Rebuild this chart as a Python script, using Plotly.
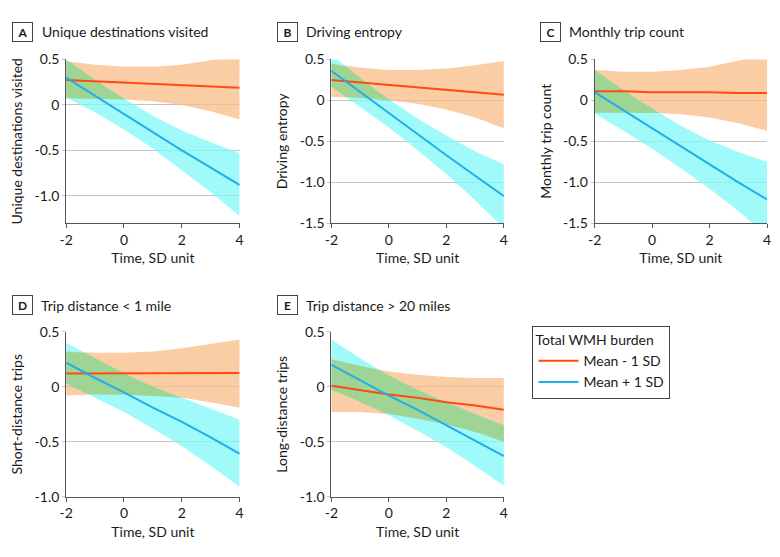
import numpy as np
import plotly.graph_objects as go

# ---------------- data ----------------
time_x = [-2, -1, 0, 1, 2, 3, 4]
x_tickvals = [-2, 0, 2, 4]
x_ticktext = ["-2", "0", "2", "4"]

panel_letters = ["A", "B", "C", "D", "E"]
panel_titles = ["Unique destinations visited", "Driving entropy", "Monthly trip count",
                "Trip distance < 1 mile", "Trip distance > 20 miles"]
y_titles = ["Unique destinations visited", "Driving entropy", "Monthly trip count",
            "Short-distance trips", "Long-distance trips"]
y_ranges = [[-1.3, 0.5], [-1.5, 0.5], [-1.5, 0.5], [-1.0, 0.5], [-1.0, 0.5]]
y_tickvals_A = [0.5, 0, -0.5, -1.0]
y_ticktext_A = ["0.5", "0", "-0.5", "-1.0"]
y_tickvals_BC = [0.5, 0, -0.5, -1.0, -1.5]
y_ticktext_BC = ["0.5", "0", "-0.5", "-1.0", "-1.5"]
y_tickvals_DE = [0.5, 0, -0.5, -1.0]
y_ticktext_DE = ["0.5", "0", "-0.5", "-1.0"]

series_names = ["Mean - 1 SD", "Mean + 1 SD"]
legend_title = "Total WMH burden"

# Panel A: Unique destinations visited
A_low_fit = [0.275, 0.26, 0.245, 0.235, 0.22, 0.205, 0.19]
A_low_lo = [0.07, 0.07, 0.06, 0.04, 0.0, -0.07, -0.16]
A_low_hi = [0.48, 0.44, 0.42, 0.42, 0.44, 0.49, 0.54]
A_high_fit = [0.30, 0.10, -0.10, -0.30, -0.50, -0.69, -0.88]
A_high_lo = [0.08, -0.08, -0.27, -0.48, -0.72, -0.96, -1.22]
A_high_hi = [0.50, 0.27, 0.07, -0.12, -0.28, -0.41, -0.53]

# Panel B: Driving entropy
B_low_fit = [0.25, 0.22, 0.19, 0.16, 0.13, 0.10, 0.07]
B_low_lo = [0.04, 0.03, 0.0, -0.04, -0.11, -0.21, -0.34]
B_low_hi = [0.45, 0.40, 0.37, 0.37, 0.39, 0.43, 0.48]
B_high_fit = [0.36, 0.10, -0.15, -0.41, -0.67, -0.92, -1.17]
B_high_lo = [0.17, -0.08, -0.33, -0.61, -0.90, -1.22, -1.56]
B_high_hi = [0.56, 0.27, 0.01, -0.22, -0.43, -0.62, -0.78]

# Panel C: Monthly trip count
C_low_fit = [0.11, 0.11, 0.10, 0.10, 0.10, 0.09, 0.09]
C_low_lo = [-0.15, -0.15, -0.15, -0.17, -0.21, -0.28, -0.37]
C_low_hi = [0.37, 0.35, 0.35, 0.37, 0.41, 0.48, 0.56]
C_high_fit = [0.10, -0.12, -0.35, -0.57, -0.78, -1.00, -1.21]
C_high_lo = [-0.16, -0.37, -0.59, -0.83, -1.08, -1.35, -1.65]
C_high_hi = [0.37, 0.12, -0.10, -0.31, -0.49, -0.63, -0.75]

# Panel D: Trip distance < 1 mile
D_low_fit = [0.12, 0.12, 0.12, 0.12, 0.12, 0.125, 0.125]
D_low_lo = [-0.08, -0.07, -0.07, -0.08, -0.10, -0.14, -0.19]
D_low_hi = [0.32, 0.31, 0.31, 0.32, 0.35, 0.39, 0.43]
D_high_fit = [0.22, 0.08, -0.05, -0.19, -0.32, -0.46, -0.61]
D_high_lo = [0.03, -0.10, -0.23, -0.38, -0.54, -0.72, -0.91]
D_high_hi = [0.40, 0.26, 0.12, 0.0, -0.10, -0.20, -0.30]

# Panel E: Trip distance > 20 miles
E_low_fit = [0.01, -0.03, -0.07, -0.10, -0.14, -0.17, -0.21]
E_low_lo = [-0.23, -0.23, -0.25, -0.29, -0.34, -0.41, -0.50]
E_low_hi = [0.25, 0.19, 0.14, 0.11, 0.09, 0.08, 0.08]
E_high_fit = [0.20, 0.06, -0.08, -0.21, -0.35, -0.49, -0.63]
E_high_lo = [-0.03, -0.13, -0.26, -0.40, -0.55, -0.72, -0.90]
E_high_hi = [0.43, 0.26, 0.10, -0.03, -0.14, -0.25, -0.35]

# ---------------- styling / layout ----------------
FONT = "Lato"
FS = 14
TXT = "#1a1a1a"
AXC = "#555555"
GRID = "#C4C4C4"
ORANGE_LINE = "#FF4A14"
CYAN_LINE = "#22AEE8"
ORANGE_FILL = "rgba(248,188,135,0.75)"
CYAN_FILL = "rgba(128,248,248,0.75)"
GREEN_FILL = "rgba(158,208,132,0.82)"

W, H = 780, 557
col_px = [(60, 236), (329, 504), (596, 771)]
row_px = [(52, 221), (333, 503)]
panel_pos = [(0, 0), (0, 1), (0, 2), (1, 0), (1, 1)]
title_px = [(15.5, 33, 23.5), (284.5, 301, 23.5), (551.7, 568, 23.5),
            (15.5, 32, 305.5), (284.5, 301, 305.5)]

panels = [
    (A_low_fit, A_low_lo, A_low_hi, A_high_fit, A_high_lo, A_high_hi),
    (B_low_fit, B_low_lo, B_low_hi, B_high_fit, B_high_lo, B_high_hi),
    (C_low_fit, C_low_lo, C_low_hi, C_high_fit, C_high_lo, C_high_hi),
    (D_low_fit, D_low_lo, D_low_hi, D_high_fit, D_high_lo, D_high_hi),
    (E_low_fit, E_low_lo, E_low_hi, E_high_fit, E_high_lo, E_high_hi),
]
y_ticks = [(y_tickvals_A, y_ticktext_A), (y_tickvals_BC, y_ticktext_BC),
           (y_tickvals_BC, y_ticktext_BC), (y_tickvals_DE, y_ticktext_DE),
           (y_tickvals_DE, y_ticktext_DE)]


def overlap_polygon(x, lo1, hi1, lo2, hi2):
    xf = np.linspace(min(x), max(x), 1201)
    lo = np.maximum(np.interp(xf, x, lo1), np.interp(xf, x, lo2))
    hi = np.minimum(np.interp(xf, x, hi1), np.interp(xf, x, hi2))
    mask = hi > lo
    px, py = [], []
    i = 0
    n = len(xf)
    while i < n:
        if mask[i]:
            j = i
            while j + 1 < n and mask[j + 1]:
                j += 1
            seg = slice(i, j + 1)
            px += list(xf[seg]) + list(xf[seg][::-1]) + [None]
            py += list(hi[seg]) + list(lo[seg][::-1]) + [None]
            i = j + 1
        else:
            i += 1
    return px, py


fig = go.Figure()
layout = dict(
    width=W, height=H, margin=dict(l=0, r=0, t=0, b=0),
    paper_bgcolor="white", plot_bgcolor="white",
    font=dict(family=FONT, size=FS, color=TXT),
    showlegend=True,
    legend=dict(
        x=533 / W, y=1 - 327 / H, xanchor="left", yanchor="top",
        bordercolor="#444444", borderwidth=1, bgcolor="white",
        title=dict(text=legend_title, font=dict(size=FS, family=FONT, color=TXT)),
        font=dict(size=FS, family=FONT, color=TXT),
        itemwidth=40, tracegroupgap=0,
    ),
    annotations=[],
)

for k, (data, (r, c)) in enumerate(zip(panels, panel_pos)):
    lf, llo, lhi, hf, hlo, hhi = data
    sfx = "" if k == 0 else str(k + 1)
    xa, ya = "x" + sfx, "y" + sfx

    # bands
    fig.add_trace(go.Scatter(x=time_x + time_x[::-1], y=lhi + llo[::-1], fill="toself",
                             fillcolor=ORANGE_FILL, line=dict(width=0), mode="lines",
                             hoverinfo="skip", showlegend=False, xaxis=xa, yaxis=ya))
    fig.add_trace(go.Scatter(x=time_x + time_x[::-1], y=hhi + hlo[::-1], fill="toself",
                             fillcolor=CYAN_FILL, line=dict(width=0), mode="lines",
                             hoverinfo="skip", showlegend=False, xaxis=xa, yaxis=ya))
    ox, oy = overlap_polygon(time_x, llo, lhi, hlo, hhi)
    fig.add_trace(go.Scatter(x=ox, y=oy, fill="toself", fillcolor=GREEN_FILL,
                             line=dict(width=0), mode="lines", hoverinfo="skip",
                             showlegend=False, xaxis=xa, yaxis=ya))
    # lines
    fig.add_trace(go.Scatter(x=time_x, y=lf, mode="lines", line=dict(color=ORANGE_LINE, width=2),
                             name=series_names[0], showlegend=(k == 0), legendrank=1,
                             xaxis=xa, yaxis=ya))
    fig.add_trace(go.Scatter(x=time_x, y=hf, mode="lines", line=dict(color=CYAN_LINE, width=2),
                             name=series_names[1], showlegend=(k == 0), legendrank=2,
                             xaxis=xa, yaxis=ya))

    x0, x1 = col_px[c]
    yt, yb = row_px[r]
    yv, ytx = y_ticks[k]
    layout["xaxis" + sfx] = dict(
        domain=[x0 / W, x1 / W], anchor=ya, range=[-2, 4],
        tickvals=x_tickvals, ticktext=x_ticktext,
        showline=True, linecolor=AXC, linewidth=1,
        ticks="outside", ticklen=4, tickcolor=AXC,
        showgrid=False, zeroline=False,
        tickfont=dict(size=FS, family=FONT, color=TXT),
        title=dict(text="Time, SD unit", standoff=6, font=dict(size=FS, family=FONT, color=TXT)),
    )
    layout["yaxis" + sfx] = dict(
        domain=[1 - yb / H, 1 - yt / H], anchor=xa, range=y_ranges[k],
        tickvals=yv, ticktext=ytx,
        showline=True, linecolor=AXC, linewidth=1,
        ticks="outside", ticklen=3, tickcolor=GRID,
        showgrid=True, gridcolor=GRID, gridwidth=1, zeroline=False,
        tickfont=dict(size=FS, family=FONT, color=TXT),
        title=dict(text=y_titles[k], standoff=8, font=dict(size=FS, family=FONT, color=TXT)),
    )

    bx, tx, ty = title_px[k]
    layout["annotations"].append(dict(
        xref="paper", yref="paper", x=bx / W, y=1 - ty / H, xanchor="center", yanchor="middle",
        text="<b>" + panel_letters[k] + "</b>", showarrow=False,
        font=dict(size=12, family=FONT, color=TXT),
        bordercolor="#444444", borderwidth=1, borderpad=2, width=15, height=14,
    ))
    layout["annotations"].append(dict(
        xref="paper", yref="paper", x=tx / W, y=1 - ty / H, xanchor="left", yanchor="middle",
        text=panel_titles[k], showarrow=False,
        font=dict(size=FS, family=FONT, color=TXT),
    ))

fig.update_layout(**layout)
fig.write_html("out.html")
